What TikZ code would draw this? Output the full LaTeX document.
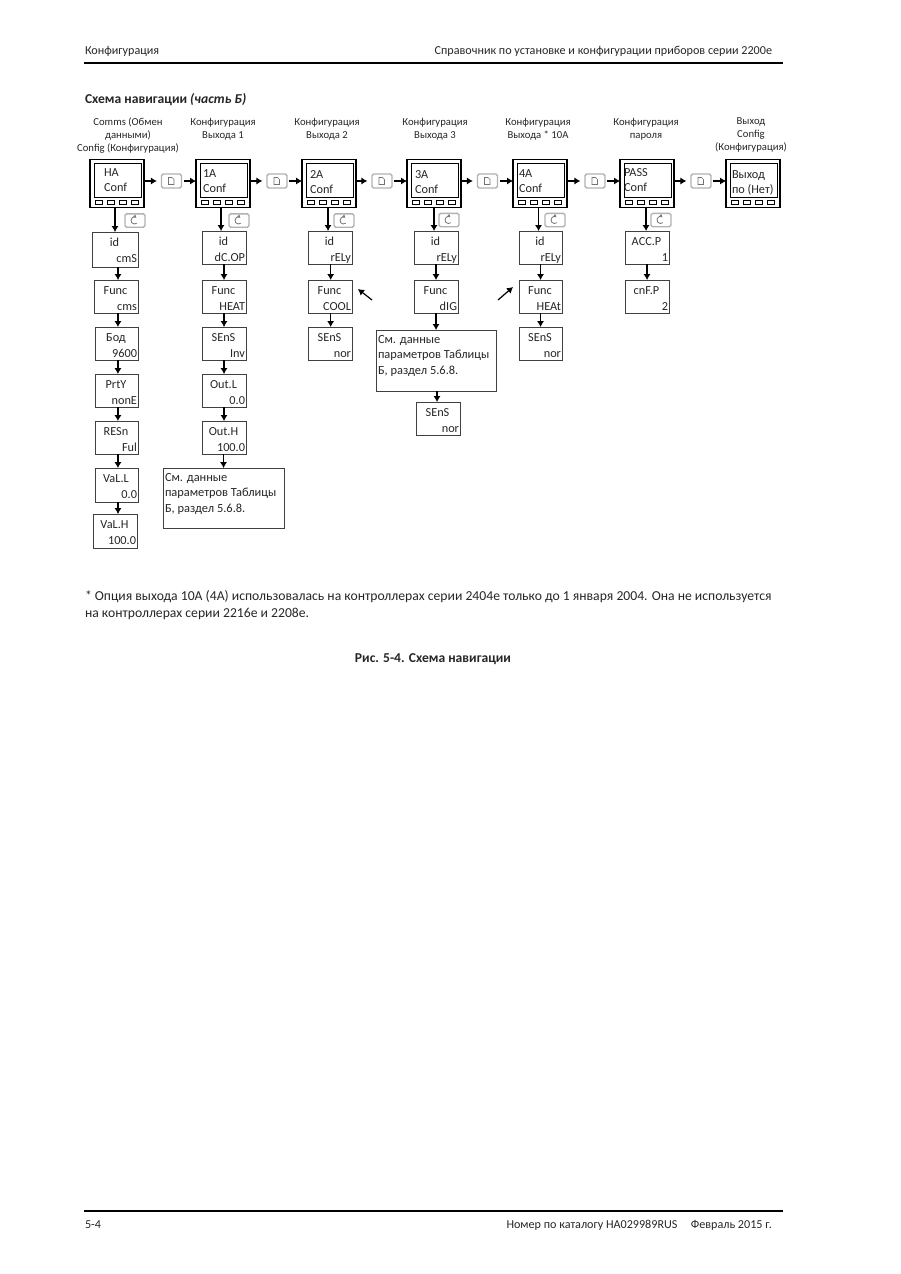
\documentclass[tikz,border=0pt]{standalone}
\usepackage{fontspec}
\setmainfont{Carlito}
\usetikzlibrary{arrows.meta, calc}
\tikzset{
  every node/.style={font=\fontsize{8}{11}\selectfont, inner sep=0pt, outer sep=0pt, text=black!85},
  display/.style={draw, line width=1.1pt, minimum width=40.5pt, minimum height=36pt},
  parambox/.style={draw, line width=0.65pt, black!75},
  pagekey/.style={draw=black!30, fill=white, line width=1pt, rounded corners=1.2pt, minimum width=15pt, minimum height=10.5pt},
  scrollkey/.style={draw=black!30, fill=white, line width=1pt, rounded corners=1.2pt, minimum width=15pt, minimum height=10pt},
  arrow/.style={-{Latex[length=4.5pt,width=5.5pt]}, line width=0.9pt},
  glyph/.style={draw=black!55, line width=0.4pt},
  headnote/.style={align=center, font=\fontsize{8}{9.7}\selectfont},
  notetext/.style={align=left, font=\fontsize{9.3}{11.5}\selectfont},
  valuetext/.style={font=\fontsize{9.2}{11}\selectfont},
  body/.style={anchor=base west, font=\fontsize{9.1}{11}\selectfont},
  bodybig/.style={anchor=base west, font=\fontsize{10.25}{12}\selectfont},
  titletext/.style={font=\fontsize{10.2}{11}\selectfont\bfseries}
}
\begin{document}
\begin{tikzpicture}[x=0.75pt,y=-0.75pt]
    \useasboundingbox (0,0) rectangle (900,1274);
    % page header and footer
    \draw[line width=1pt] (84,63) coordinate (headl) -- (783,63) coordinate (headr);
    \draw[line width=1pt] (84,1211) coordinate (footl) -- (783,1211) coordinate (footr);
    \node[body] (headleft) at (85,54) {Конфигурация};
    \node[body, anchor=base east] (headright) at (772,54) {Справочник по установке и конфигурации приборов серии 2200е};
    \node[body] (footleft) at (85,1228) {5-4};
    \node[body, anchor=base east] (footright) at (772,1228) {Номер по каталогу HA029989RUS\hspace{1.1em}Февраль 2015 г.};
    \node[titletext, anchor=base west] (title) at (85,103) {Схема навигации \textit{(часть Б)}};
    \node[bodybig] (fnone) at (85,600) {* Опция выхода 10А (4А) использовалась на контроллерах серии 2404е только до 1 января 2004. Она не используется};
    \node[bodybig] (fntwo) at (85,617) {на контроллерах серии 2216е и 2208е.};
    \node[titletext, anchor=base] (caption) at (433,662) {Рис. 5-4. Схема навигации};
    % column headings
    \foreach \nm/\x/\lab in {heada/128/{Comms (Обмен\\данными)\\Config (Конфигурация)},
        headb/223/{Конфигурация\\Выхода 1},
        headc/327/{Конфигурация\\Выхода 2},
        headd/435/{Конфигурация\\Выхода 3},
        heade/538/{Конфигурация\\Выхода * 10А},
        headf/646/{Конфигурация\\пароля},
        headg/751/{Выход\\Config\\(Конфигурация)}}{
        \node[headnote, anchor=north] (\nm) at (\x,118) {\lab};
    }
    % instrument displays
    \foreach \nm/\xa/\tx/\ty/\top/\bot in {ha/90/104/176/HA/Conf, oa/196/203/177/1A/Conf, ob/302/310/178/2A/Conf,
        oc/407/415/178/3A/Conf, od/513/519/177/4A/Conf, pw/620/624/176/PASS/Conf, ex/726/732/178/Выход/по (Нет)}{
        \node[display] (\nm) at (\xa+27,183.5) {};
        \draw[line width=0.75pt] ($(\nm.north west)+(4,3.5)$) rectangle ($(\nm.north west)+(51,38)$);
        \foreach \k in {0,...,3}
            \draw[line width=0.7pt] ($(\nm.north west)+(5+12*\k,40.5)$) rectangle ($(\nm.north west)+(12.5+12*\k,45)$);
        \node[valuetext, anchor=base west] (\nm-top) at (\tx,\ty) {\top};
        \node[valuetext, anchor=base west] (\nm-bot) at (\tx,\ty+15) {\bot};
    }
    % parameter boxes
    \foreach \nm/\xa/\xb/\ya/\yb/\top/\bot in {
        ida/92/138/232/267/id/cmS, fna/94/138/280/313/Func/cms, bda/95/138/327/360/Бод/9600,
        pra/95/138/374/407/PrtY/nonE, rsa/95/138/421/454/RESn/Ful, vla/95/138/468/502/VaL.L/0.0, vha/93/137/514/548/VaL.H/100.0,
        idb/202/246/231/264/id/dC.OP, fnb/202/246/280/313/Func/HEAT, snb/202/246/327/360/SEnS/Inv,
        olb/202/246/374/407/Out.L/0.0, ohb/202/246/421/454/Out.H/100.0,
        idc/308/352/231/264/id/rELy, fnc/308/352/280/313/Func/COOL, snc/308/352/327/360/SEnS/nor,
        idd/414/458/231/264/id/rELy, fnd/414/458/280/313/Func/dIG, snd/416/460/402/435/SEnS/nor,
        ide/519/562/231/264/id/rELy, fne/519/562/280/313/Func/HEAt, sne/519/562/327/360/SEnS/nor,
        idf/625/669/231/264/ACC.P/1, fnf/625/669/280/313/cnF.P/2}{
        \node[parambox, minimum width=(\xb-\xa)*0.75pt, minimum height=(\yb-\ya)*0.75pt] (\nm) at ({(\xa+\xb)/2},{(\ya+\yb)/2}) {};
        \node[valuetext, anchor=base] (\nm-top) at ($(\nm.north)+(-0.5,14)$) {\top};
        \node[valuetext, anchor=base east] (\nm-bot) at ($(\nm.north east)+(-1,30)$) {\bot};
    }
    % reference notes
    \node[parambox, minimum width=90.75pt, minimum height=45pt] (notea) at (223.5,498) {};
    \node[notetext, anchor=north west] (notea-text) at (165,473.5) {См. данные\\параметров Таблицы\\Б, раздел 5.6.8.};
    \node[parambox, minimum width=90pt, minimum height=45.75pt] (noted) at (436,360.5) {};
    \node[notetext, anchor=north west] (noted-text) at (378,335.5) {См. данные\\параметров Таблицы\\Б, раздел 5.6.8.};
    % page keys between the displays
    \foreach \k/\x/\a/\b in {pka/171.5/ha/oa, pkb/277/oa/ob, pkc/382/ob/oc, pkd/487.5/oc/od, pke/595/od/pw, pkf/701/pw/ex}{
        \node[pagekey] (\k) at (\x,181) {};
        \draw[glyph] ($(\k.center)+(-3,-3.5)$) -- ++(3.5,0) -- ++(2,2) -- ++(0,5) -- ++(-5.5,0) -- cycle;
        \draw[arrow, shorten >=3.5pt] (\a.east |- \k.west) -- (\k.west);
        \draw[arrow, shorten <=1.5pt] (\k.east) -- (\b.west |- \k.east);
    }
    % scroll keys beside the displays
    \foreach \k/\x/\y in {ska/135/220.5, skb/239/220.5, skc/344/220.5, skd/449/220, ske/555/220, skf/661/220}{
        \node[scrollkey] (\k) at (\x,\y) {};
        \draw[glyph, line width=0.6pt, -{Latex[length=2.2pt,width=3pt]}] ($(\k.center)+(1.75,2.7)$) arc[start angle=50, end angle=305, radius=3.5];
    }
    % down connectors
    \foreach \a/\b/\dx in {ha/ida/0pt, oa/idb/-2.25pt, ob/idc/-1.5pt, oc/idd/-1.5pt, od/ide/-1.5pt, pw/idf/-0.75pt,
        ida/fna/1.5pt, fna/bda/1.1pt, bda/pra/1.1pt, pra/rsa/1.1pt, rsa/vla/1.1pt, vla/vha/2.25pt,
        idb/fnb/0pt, fnb/snb/0pt, snb/olb/0pt, olb/ohb/0pt, ohb/notea/0pt,
        idc/fnc/0.5pt, fnc/snc/0.5pt, idd/fnd/0pt, fnd/noted/0pt, noted/snd/-0.75pt,
        ide/fne/0pt, fne/sne/0pt, idf/fnf/0pt}{
        \draw[arrow] ([xshift=\dx]\b.north |- \a.south) -- ([xshift=\dx]\b.north);
    }
    % hints next to the Func boxes
    \coordinate (hintc) at (372,300);
    \coordinate (hintd) at (498,300);
    \draw[arrow] (hintc) -- (358,289) coordinate (hintctip);
    \draw[arrow] (hintd) -- (513,287) coordinate (hintdtip);
\end{tikzpicture}
\end{document}
